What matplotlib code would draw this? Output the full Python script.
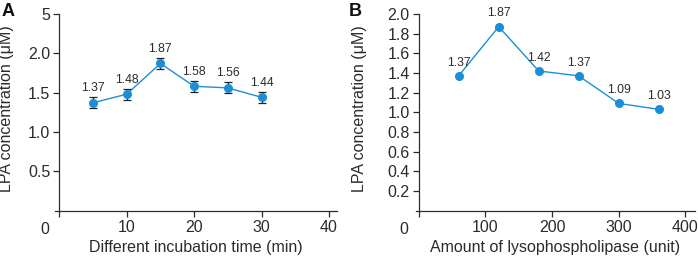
import numpy as np
import matplotlib.pyplot as plt

# ==============================
# DATA
# ==============================

time_min = [5, 10, 15, 20, 25, 30]
lpa_time = [1.37, 1.48, 1.87, 1.58, 1.56, 1.44]
lpa_time_err = [0.07, 0.07, 0.07, 0.07, 0.07, 0.07]

enzyme_unit = [60, 120, 180, 240, 300, 360]
lpa_enzyme = [1.37, 1.87, 1.42, 1.37, 1.09, 1.03]

a_yticks = [0.5, 1.0, 1.5, 2.0, 2.5]
a_yticklabels = ["0.5", "1.0", "1.5", "2.0", "5"]
a_xticks = [0, 10, 20, 30, 40]
b_yticks = [0.2, 0.4, 0.6, 0.8, 1.0, 1.2, 1.4, 1.6, 1.8, 2.0]
b_xticks = [0, 100, 200, 300, 400]

# ==============================
# STYLE
# ==============================

plt.rcParams["font.family"] = ["Liberation Sans", "DejaVu Sans"]
BLUE = "#1b8fd6"
DARK = "#2b2b2b"
FS = 11.5


def style_axes(ax, xticks):
    for side in ["top", "right"]:
        ax.spines[side].set_visible(False)
    for side in ["left", "bottom"]:
        ax.spines[side].set_color(DARK)
        ax.spines[side].set_linewidth(0.9)
    ax.spines["left"].set_position(("data", 0))
    ax.set_xticks(xticks)
    # the origin "0" is drawn separately, left of the axis
    ax.set_xticklabels([""] + [str(t) for t in xticks[1:]])
    ax.tick_params(colors=DARK, labelsize=FS, length=4, width=0.9,
                   labelcolor=DARK, pad=2.5)
    ax.set_ylabel("LPA concentration (\u03bcM)", fontsize=FS, color=DARK)
    ax.annotate("0", xy=(0, 0), xycoords="data", xytext=(-15, -11),
                textcoords="offset pixels", ha="center", va="top",
                fontsize=FS, color=DARK)


fig = plt.figure(figsize=(6.98, 2.62), dpi=100)

# ---------- Panel A ----------
axA = fig.add_axes([0.0792, 0.196, 0.4036, 0.751])
axA.plot(time_min, lpa_time, color=BLUE, linewidth=1.0, zorder=2)
axA.errorbar(time_min, lpa_time, yerr=lpa_time_err, fmt="none",
             ecolor="#222222", elinewidth=0.9, capsize=3, capthick=0.9, zorder=3)
axA.plot(time_min, lpa_time, "o", color=BLUE, markersize=5.5, zorder=4)
for x, y in zip(time_min, lpa_time):
    axA.annotate(f"{y:.2f}", xy=(x, y), xytext=(0, 10.5), textcoords="offset points",
                 ha="center", va="center", fontsize=8.7, color=DARK)
axA.set_xlim(-0.6, 41.2)
axA.set_ylim(0, 2.5)
axA.set_yticks(a_yticks)
axA.set_yticklabels(a_yticklabels)
axA.set_xlabel("Different incubation time (min)", fontsize=FS, color=DARK, labelpad=3.5)
style_axes(axA, a_xticks)
axA.yaxis.set_label_coords(-0.147, 0.52)
fig.text(0.002, 0.99, "A", fontsize=13, fontweight="bold", va="top", color="#111111")

# ---------- Panel B ----------
axB = fig.add_axes([0.596, 0.196, 0.3993, 0.751])
axB.plot(enzyme_unit, lpa_enzyme, "-o", color=BLUE, linewidth=1.0,
         markersize=5.5, zorder=3)
for x, y in zip(enzyme_unit, lpa_enzyme):
    axB.annotate(f"{y:.2f}", xy=(x, y), xytext=(0, 9.5), textcoords="offset points",
                 ha="center", va="center", fontsize=8.7, color=DARK)
axB.set_xlim(-4, 414)
axB.set_ylim(0, 2.0)
axB.set_yticks(b_yticks)
axB.set_yticklabels([f"{v:.1f}" for v in b_yticks])
axB.set_xlabel("Amount of lysophospholipase (unit)", fontsize=FS, color=DARK, labelpad=3.5)
style_axes(axB, b_xticks)
axB.yaxis.set_label_coords(-0.176, 0.52)
fig.text(0.5, 0.99, "B", fontsize=13, fontweight="bold", va="top", color="#111111")

fig.savefig("out.png", dpi=100)
